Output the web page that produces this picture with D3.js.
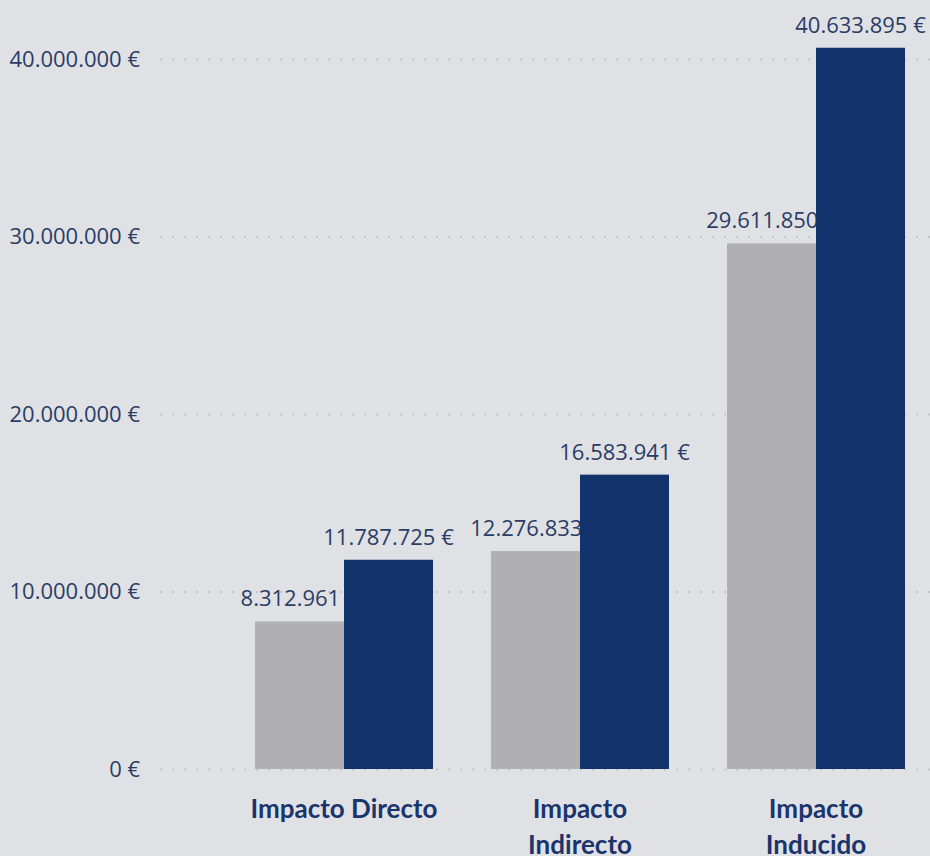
<!DOCTYPE html>
<html>
<head>
<meta charset="utf-8">
<script src="https://cdn.jsdelivr.net/npm/d3@7"></script>
<style>
  body { margin: 0; background: #e0e1e4; }
  svg { display: block; font-family: "Open Sans", "Noto Sans", sans-serif; }
</style>
</head>
<body>
<svg width="930" height="856"></svg>
<script>
// categorieen en reeksen
var categories = ["Impacto Directo", "Impacto Indirecto", "Impacto Inducido"];
var series = ["anterior", "actual"];
var valuesAnterior = [8312961, 12276833, 29611850];
var valuesActual = [11787725, 16583941, 40633895];
var yTicks = [0, 10000000, 20000000, 30000000, 40000000];

var svg = d3.select("svg");
var colors = { anterior: "#b0b0b2", actual: "#12326b" };
var textFont = "'Open Sans', 'Noto Sans', sans-serif";

var data = categories.map(function(c, i) {
  return { cat: c, anterior: valuesAnterior[i], actual: valuesActual[i] };
});

// schalen
var x = d3.scaleBand().domain(categories).range([226, 934])
    .paddingInner(0.2458).paddingOuter(0.1229);
var xs = d3.scaleBand().domain(series).range([0, x.bandwidth()]).padding(0);
var y = d3.scaleLinear().domain([0, 40000000]).range([769, 59]);

var fmt = function(v) {
  return String(v).replace(/\B(?=(\d{3})+(?!\d))/g, ".") + " €";
};

// y-as met gestippelde rasterlijnen
var yAxis = svg.append("g")
    .attr("transform", "translate(160,0)")
    .call(d3.axisLeft(y).tickValues(yTicks).tickSize(0).tickPadding(20).tickFormat(fmt))
    .attr("font-family", textFont)
    .attr("font-size", 22);
yAxis.select(".domain").remove();
yAxis.selectAll("text")
    .attr("fill", "#2a3d66");
yAxis.selectAll(".tick").append("line")
    .attr("x1", 0).attr("x2", 770)
    .attr("stroke", "#c3c4c8")
    .attr("stroke-width", 2)
    .attr("stroke-dasharray", "2,10");

var groups = svg.selectAll(".group")
    .data(data)
    .enter().append("g")
      .attr("class", "group")
      .attr("font-size", 22)
      .attr("transform", function(d) { return "translate(" + x(d.cat) + ",0)"; });

// grijze balken + labels (donkere balk komt er overheen)
groups.append("rect")
    .attr("x", xs("anterior"))
    .attr("y", function(d) { return y(d.anterior); })
    .attr("width", xs.bandwidth())
    .attr("height", function(d) { return y(0) - y(d.anterior); })
    .attr("fill", colors.anterior);
groups.append("text")
    .attr("x", xs("anterior") + xs.bandwidth() / 2)
    .attr("y", function(d) { return y(d.anterior) - 15; })
    .attr("text-anchor", "middle")
    .attr("fill", "#2a3d66")
    .text(function(d) { return fmt(d.anterior); });

groups.append("rect")
    .attr("x", xs("actual"))
    .attr("y", function(d) { return y(d.actual); })
    .attr("width", xs.bandwidth())
    .attr("height", function(d) { return y(0) - y(d.actual); })
    .attr("fill", colors.actual);
groups.append("text")
    .attr("x", xs("actual") + xs.bandwidth() / 2)
    .attr("y", function(d) { return y(d.actual) - 15; })
    .attr("text-anchor", "middle")
    .attr("fill", "#2a3d66")
    .text(function(d) { return fmt(d.actual); });

// categorie-labels, afgebroken als ze te breed zijn
var xAxis = svg.append("g")
    .attr("transform", "translate(0,769)")
    .call(d3.axisBottom(x).tickSize(0).tickPadding(0))
    .attr("font-family", "Lato, sans-serif")
    .attr("font-size", 26)
    .attr("font-weight", "bold");
xAxis.select(".domain").remove();
xAxis.selectAll("text")
    .attr("fill", "#1a346c")
    .each(function(d) {
      var t = d3.select(this);
      t.text(null).attr("y", 49).attr("dy", null);
      var words = d.split(" ");
      var lines = [words[0]];
      for (var i = 1; i < words.length; i++) {
        var test = lines[lines.length - 1] + " " + words[i];
        t.text(test);
        if (this.getComputedTextLength() > 192) lines.push(words[i]);
        else lines[lines.length - 1] = test;
      }
      t.text(null);
      lines.forEach(function(l, k) {
        t.append("tspan").attr("x", 0).attr("y", 49 + k * 36).text(l);
      });
    });
</script>
</body>
</html>
